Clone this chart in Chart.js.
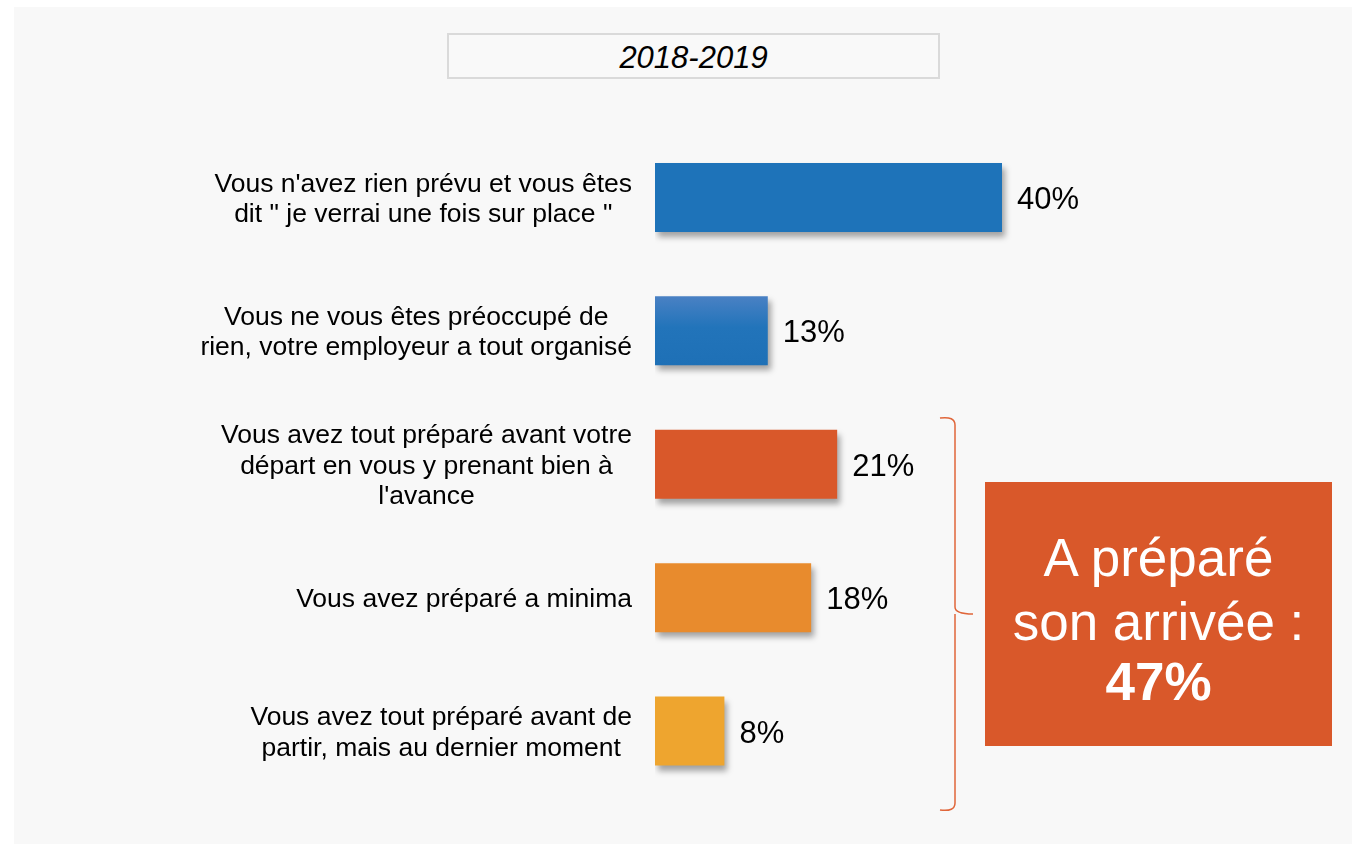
<!DOCTYPE html>
<html>
<head>
<meta charset="utf-8">
<script src="https://cdn.jsdelivr.net/npm/chart.js@4/dist/chart.umd.min.js"></script>
<style>
    body { margin: 0; background: #ffffff; font-family: "Liberation Sans", Arial, sans-serif; }
    .panel { position: absolute; left: 14px; top: 7px; width: 1338px; height: 837px; background: #f8f8f8; }
    .title { position: absolute; left: 447px; top: 33px; width: 489px; height: 42px; border: 2px solid #dadada;
        background: #f9f9f9; text-align: center; font-style: italic; font-size: 31px; line-height: 45px; color: #000; }
    .summary { position: absolute; left: 985px; top: 482px; width: 347px; height: 264px; background: #d9582a; color: #fff; }
    .summary div { position: absolute; left: 0; width: 100%; text-align: center; font-size: 53px; line-height: 62px; }
    canvas { position: absolute; left: 0; top: 0; }
</style>
</head>
<body>
<div class="panel"></div>
<div class="title">2018-2019</div>
<canvas id="prepChart" width="1353" height="844"></canvas>
<div class="summary">
    <div style="top:45px">A préparé</div>
    <div style="top:109px">son arrivée :</div>
    <div style="top:169px; font-weight:bold">47%</div>
</div>

<script>
let categories = [
    ["Vous n'avez rien prévu et vous êtes", "dit \" je verrai une fois sur place \""],
    ["Vous ne vous êtes préoccupé de", "rien, votre employeur a tout organisé"],
    ["Vous avez tout préparé avant votre", "départ en vous y prenant bien à", "l'avance"],
    ["Vous avez préparé a minima"],
    ["Vous avez tout préparé avant de", "partir, mais au dernier moment"]
];
let values = [40, 13, 21, 18, 8];
let barColors = ["#1e73b9", "#1f72b8", "#d9582a", "#e88b2d", "#eea52f"];

const FONT = '"Liberation Sans", Arial, sans-serif';

// colour for each bar, the second one gets the light top gradient
function barColor(context) {
    let i = context.dataIndex;
    let chart = context.chart;
    if (i !== 1 || !chart.chartArea) return barColors[i];
    let y = chart.scales.y.getPixelForValue(i);
    let g = chart.ctx.createLinearGradient(0, y - 35, 0, y + 35);
    g.addColorStop(0, "#4a81c4");
    g.addColorStop(0.45, "#2274ba");
    g.addColorStop(1, "#1e70b6");
    return g;
}

// soft shadow under the bars
const shadowPlugin = {
    id: "shadow",
    beforeDatasetDraw(chart) {
        let ctx = chart.ctx;
        ctx.save();
        ctx.shadowColor = "rgba(0,0,0,0.35)";
        ctx.shadowBlur = 6;
        ctx.shadowOffsetX = 3;
        ctx.shadowOffsetY = 5;
    },
    afterDatasetDraw(chart) {
        chart.ctx.restore();
    }
};

// category text on the left and values after the bars
const labelPlugin = {
    id: "labels",
    afterDatasetsDraw(chart) {
        let ctx = chart.ctx;
        let xs = chart.scales.x;
        let ys = chart.scales.y;
        ctx.save();
        ctx.fillStyle = "#000";
        ctx.textBaseline = "middle";
        ctx.textAlign = "center";
        ctx.font = "26.5px " + FONT;
        let right = xs.left - 23;
        let lh = 30.5;
        categories.forEach((lines, i) => {
            let yc = ys.getPixelForValue(i) + 2;
            let w = Math.max(...lines.map(l => ctx.measureText(l).width));
            let cx = right - w / 2;
            lines.forEach((line, k) => {
                ctx.fillText(line, cx, yc + (k - (lines.length - 1) / 2) * lh);
            });
        });
        ctx.textAlign = "left";
        ctx.font = "31px " + FONT;
        values.forEach((v, i) => {
            ctx.fillText(v + "%", xs.getPixelForValue(v) + 15, ys.getPixelForValue(i) + 3);
        });
        ctx.restore();
    }
};

// bracket joining the three "prepared" answers
const bracePlugin = {
    id: "brace",
    afterDraw(chart) {
        let ctx = chart.ctx;
        ctx.save();
        ctx.strokeStyle = "#e0663a";
        ctx.lineWidth = 1.5;
        ctx.beginPath();
        ctx.moveTo(940, 418);
        ctx.quadraticCurveTo(955, 416, 955, 425);
        ctx.lineTo(955, 607);
        ctx.quadraticCurveTo(955, 614, 973, 614);
        ctx.moveTo(955, 614);
        ctx.quadraticCurveTo(955, 614, 955, 621);
        ctx.lineTo(955, 803);
        ctx.quadraticCurveTo(955, 812, 940, 810);
        ctx.stroke();
        ctx.restore();
    }
};

let chart = new Chart(document.getElementById("prepChart"), {
    type: "bar",
    data: {
        labels: categories,
        datasets: [{
            data: values,
            backgroundColor: barColor,
            borderWidth: 0,
            barPercentage: 0.517,
            categoryPercentage: 1
        }]
    },
    options: {
        indexAxis: "y",
        responsive: false,
        animation: false,
        layout: { padding: { left: 655, right: 177.5, top: 130.75, bottom: 46.25 } },
        plugins: { legend: { display: false }, tooltip: { enabled: false } },
        scales: {
            x: { display: false, min: 0, max: 60 },
            y: { display: false }
        }
    },
    plugins: [shadowPlugin, labelPlugin, bracePlugin]
});
</script>
</body>
</html>
